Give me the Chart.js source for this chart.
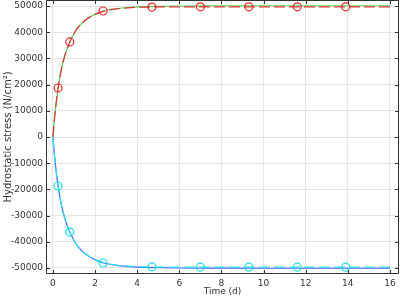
<!DOCTYPE html>
<html>
<head>
<meta charset="utf-8">
<script src="https://cdn.jsdelivr.net/npm/chart.js@4/dist/chart.umd.min.js"></script>
<style>
  html, body { margin: 0; padding: 0; background: #fff; }
  #chart { display: block; }
</style>
</head>
<body>
<canvas id="chart" width="400" height="297"></canvas>
<script>
// time (days) for the curves
const timeDays = [0, 0.05, 0.1, 0.2, 0.3, 0.4, 0.5, 0.6, 0.8, 1.0, 1.2, 1.5, 1.8, 2.1, 2.5, 3.0, 3.5, 4.0, 5.0, 6.0, 8.0, 10.0, 12.0, 14.0, 16.0];

// upper curves (green solid / red dashed)
const upperSolid  = [0, 5000, 9200, 16200, 21500, 25800, 29200, 32000, 36300, 39500, 41900, 44400, 46000, 47200, 48300, 49000, 49400, 49700, 49900, 50000, 50050, 50100, 50100, 50100, 50100];
const upperDashed = [0, 5000, 9200, 16200, 21500, 25800, 29200, 32000, 36300, 39500, 41900, 44400, 46000, 47200, 48200, 48900, 49250, 49500, 49650, 49700, 49700, 49700, 49700, 49700, 49700];

// lower curves (blue solid / cyan dashed)
const lowerSolid  = [0, -5000, -9200, -16200, -21500, -25800, -29200, -32000, -36300, -39500, -41900, -44400, -46000, -47200, -48300, -49000, -49400, -49700, -49900, -50000, -50050, -50100, -50100, -50100, -50100];
const lowerDashed = [0, -5000, -9200, -16200, -21500, -25800, -29200, -32000, -36300, -39500, -41900, -44400, -46000, -47200, -48200, -48900, -49250, -49500, -49650, -49700, -49700, -49700, -49700, -49700, -49700];

// circle markers
const markerDays  = [0.24, 0.8, 2.38, 4.7, 7.0, 9.3, 11.6, 13.9];
const upperMarks  = [18700, 36300, 48100, 49600, 49700, 49700, 49700, 49700];
const lowerMarks  = [-18700, -36300, -48100, -49600, -49700, -49700, -49700, -49700];

const xTicks = [0, 2, 4, 6, 8, 10, 12, 14, 16];
const yTicks = [-50000, -40000, -30000, -20000, -10000, 0, 10000, 20000, 30000, 40000, 50000];

const pts = (xs, ys) => xs.map((x, i) => ({ x: x, y: ys[i] }));

const font = { family: 'DejaVu Sans', size: 9 };
const textColor = '#333';

// box frame + inward ticks like the original plot
const frame = {
  id: 'frame',
  afterDatasetsDraw(chart) {
    const { ctx, chartArea: a, scales } = chart;
    ctx.save();
    ctx.strokeStyle = '#333';
    ctx.lineWidth = 1;
    ctx.beginPath();
    ctx.rect(Math.round(a.left) + 0.5, Math.round(a.top) + 0.5, Math.round(a.right - a.left) - 1, Math.round(a.bottom - a.top) - 1);
    xTicks.forEach(v => {
      const px = Math.round(scales.x.getPixelForValue(v)) + 0.5;
      ctx.moveTo(px, a.bottom); ctx.lineTo(px, a.bottom - 4);
      ctx.moveTo(px, a.top); ctx.lineTo(px, a.top + 4);
    });
    yTicks.forEach(v => {
      const py = Math.round(scales.y.getPixelForValue(v)) + 0.5;
      ctx.moveTo(a.left, py); ctx.lineTo(a.left + 4, py);
      ctx.moveTo(a.right, py); ctx.lineTo(a.right - 4, py);
    });
    ctx.stroke();
    ctx.restore();
  }
};

new Chart(document.getElementById('chart'), {
  type: 'scatter',
  data: {
    datasets: [
      { data: pts(markerDays, upperMarks), showLine: false, pointStyle: 'circle', pointRadius: 4, borderColor: 'rgb(225,40,40)', backgroundColor: 'rgba(0,0,0,0)', pointBorderWidth: 1.2 },
      { data: pts(markerDays, lowerMarks), showLine: false, pointStyle: 'circle', pointRadius: 4, borderColor: 'rgb(30,220,230)', backgroundColor: 'rgba(0,0,0,0)', pointBorderWidth: 1.2 },
      { data: pts(timeDays, lowerDashed), showLine: true, borderColor: 'rgb(40,225,235)', borderDash: [11, 4], borderWidth: 1.2, pointRadius: 0, cubicInterpolationMode: 'monotone' },
      { data: pts(timeDays, lowerSolid), showLine: true, borderColor: 'rgb(70,100,255)', borderWidth: 1.2, pointRadius: 0, cubicInterpolationMode: 'monotone' },
      { data: pts(timeDays, upperDashed), showLine: true, borderColor: 'rgb(225,50,50)', borderDash: [11, 4], borderWidth: 1.2, pointRadius: 0, cubicInterpolationMode: 'monotone' },
      { data: pts(timeDays, upperSolid), showLine: true, borderColor: 'rgb(90,215,90)', borderWidth: 1.2, pointRadius: 0, cubicInterpolationMode: 'monotone' }
    ]
  },
  options: {
    responsive: false,
    animation: false,
    devicePixelRatio: 1,
    layout: { autoPadding: false, padding: { top: 0, right: 1, left: 0, bottom: 0 } },
    plugins: { legend: { display: false }, tooltip: { enabled: false } },
    scales: {
      x: {
        type: 'linear', min: -0.33, max: 16.43,
        afterBuildTicks: s => { s.ticks = xTicks.map(v => ({ value: v })); },
        afterFit: s => { s.height = 23; s.paddingLeft = 0; s.paddingRight = 0; },
        grid: { color: '#e6e6e6', drawTicks: false },
        border: { display: false },
        ticks: { font: font, color: textColor, padding: 4 },
        title: { display: true, text: 'Time (d)', font: font, color: textColor, padding: { top: 0, bottom: 0 } }
      },
      y: {
        type: 'linear', min: -52300, max: 52300,
        afterBuildTicks: s => { s.ticks = yTicks.map(v => ({ value: v })); },
        afterFit: s => { s.width = 46; s.paddingTop = 0; s.paddingBottom = 0; },
        grid: { color: '#e6e6e6', drawTicks: false },
        border: { display: false },
        ticks: { font: font, color: textColor, padding: 3, callback: v => String(v) },
        title: { display: true, text: 'Hydrostatic stress (N/cm²)', font: { family: 'DejaVu Sans', size: 10 }, color: textColor, padding: { top: 2, bottom: 0 } }
      }
    }
  },
  plugins: [frame]
});
</script>
</body>
</html>
